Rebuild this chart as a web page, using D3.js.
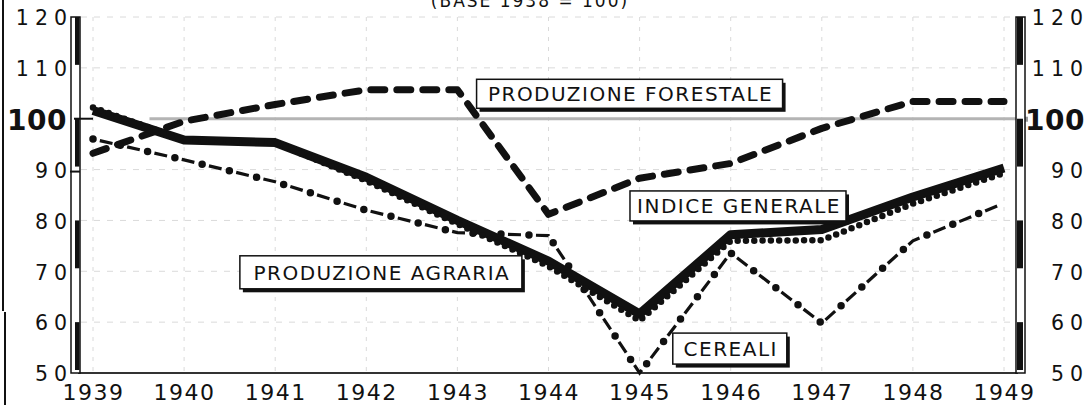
<!DOCTYPE html>
<html>
<head>
<meta charset="utf-8">
<script src="https://cdn.jsdelivr.net/npm/d3@7"></script>
<style>
  html, body { margin: 0; padding: 0; background: #fff; }
  svg { display: block; }
</style>
</head>
<body>
<svg id="chart" width="1089" height="405"></svg>
<script>
// ---- data ----
const years = [1939, 1940, 1941, 1942, 1943, 1944, 1945, 1946, 1947, 1948, 1949];
const indiceGenerale    = [101.6, 95.8, 95.3, 88.5, 80.0, 72.0, 61.6, 77.2, 78.2, 84.6, 90.3];
const produzioneAgraria = [102.2, 95.8, 95.3, 87.8, 79.3, 71.0, 60.3, 76.0, 76.1, 83.3, 89.3];
const produzioneForestale = [93.2, 99.5, 102.8, 105.7, 105.7, 81.2, 88.3, 91.2, 98.1, 103.4, 103.4];
const cereali = [96.0, 91.9, 87.6, 82.0, 77.6, 77.0, 50.0, 73.6, 59.8, 76.0, 83.4];
const yTicks = [50, 60, 70, 80, 90, 100, 110, 120];
const title = "(BASE 1938 = 100)";
const labelTexts = ["PRODUZIONE FORESTALE", "INDICE GENERALE", "PRODUZIONE AGRARIA", "CEREALI"];
// label anchors in data space (year, value)
const labelYears  = [1944.89, 1946.08, 1942.16, 1945.99];
const labelValues = [104.9, 82.85, 69.8, 54.8];

// ---- layout ----
const svg = d3.select("#chart");
const x = d3.scaleLinear().domain([1939, 1949]).range([93, 1004]);
const y = d3.scaleLinear().domain([50, 120]).range([373, 17]);
const font = "'DejaVu Sans', sans-serif";

// scan edge lines on far left
svg.append("line").attr("x1", 3).attr("x2", 3).attr("y1", 0).attr("y2", 311)
  .attr("stroke", "#111").attr("stroke-width", 2);
svg.append("line").attr("x1", 5).attr("x2", 5).attr("y1", 312).attr("y2", 405)
  .attr("stroke", "#111").attr("stroke-width", 2);

// title (cut at top, as in the source)
svg.append("text").attr("x", 530).attr("y", 7).attr("text-anchor", "middle")
  .attr("font-family", font).attr("font-size", 17).attr("letter-spacing", 2)
  .attr("fill", "#111").text(title);

// grid (very faint)
const grid = svg.append("g");
grid.selectAll(".vg").data(years).join("line")
  .attr("x1", d => x(d)).attr("x2", d => x(d))
  .attr("y1", y(120)).attr("y2", y(50))
  .attr("stroke", "#dadada").attr("stroke-width", 1).attr("stroke-dasharray", "4 6");
grid.selectAll(".hg").data(yTicks.filter(v => v !== 50 && v !== 100)).join("line")
  .attr("x1", x(1939) - 12).attr("x2", x(1949) + 8)
  .attr("y1", d => y(d)).attr("y2", d => y(d))
  .attr("stroke", "#dadada").attr("stroke-width", 1).attr("stroke-dasharray", "6 7");

// base 100 line
svg.append("line").attr("x1", x(1939.62)).attr("x2", 1027)
  .attr("y1", y(100)).attr("y2", y(100))
  .attr("stroke", "#b4b4b4").attr("stroke-width", 3);
svg.append("rect").attr("x", 1022).attr("y", y(100) - 2).attr("width", 6).attr("height", 5)
  .attr("fill", "#9a9a9a");

// bottom axis line
svg.append("line").attr("x1", 78).attr("x2", 1018).attr("y1", y(50)).attr("y2", y(50))
  .attr("stroke", "#333").attr("stroke-width", 2);

// side bars
function sideBar(x0, w, fx, fw) {
  const g = svg.append("g");
  g.append("rect").attr("x", x0).attr("y", y(120)).attr("width", w).attr("height", y(50) - y(120))
    .attr("fill", "#fff").attr("stroke", "#111").attr("stroke-width", 1.5);
  const bands = [[120, 110], [100, 90], [80, 70], [60, 50]];
  g.selectAll("rect.band").data(bands).join("rect")
    .attr("x", fx).attr("width", fw)
    .attr("y", d => y(d[0])).attr("height", d => y(d[1]) - y(d[0]) - 3)
    .attr("fill", "#111");
  return g;
}
sideBar(71, 9, 75, 4.5);
sideBar(1016, 9, 1017, 6);
// ticks on left bar
svg.append("line").attr("x1", 74).attr("x2", x(1939)).attr("y1", y(100)).attr("y2", y(100))
  .attr("stroke", "#111").attr("stroke-width", 2);
svg.append("line").attr("x1", 70).attr("x2", 80).attr("y1", y(90) + 2).attr("y2", y(90) + 2)
  .attr("stroke", "#111").attr("stroke-width", 2);

// axes labels
const leftAxis = svg.append("g").attr("transform", "translate(73,0)")
  .call(d3.axisLeft(y).tickValues(yTicks).tickSize(0).tickPadding(0));
const rightAxis = svg.append("g").attr("transform", "translate(1089,0)")
  .call(d3.axisLeft(y).tickValues(yTicks).tickSize(0).tickPadding(0));
[leftAxis, rightAxis].forEach(a => {
  a.select(".domain").remove();
  a.selectAll("text")
    .attr("font-family", font).attr("fill", "#111")
    .attr("font-size", d => d === 100 ? 28 : 20.5)
    .attr("font-weight", d => d === 100 ? "bold" : "normal")
    .attr("letter-spacing", d => d === 100 ? 0.5 : 6)
    .attr("dy", "0.38em");
});
leftAxis.selectAll("text").attr("dx", d => d === 100 ? -6 : 0);
rightAxis.selectAll("text").attr("dx", d => d === 100 ? -4 : 0);

const bottomAxis = svg.append("g").attr("transform", `translate(0,${y(50)})`)
  .call(d3.axisBottom(x).tickValues(years).tickFormat(d3.format("d")).tickSize(0));
bottomAxis.select(".domain").remove();
bottomAxis.selectAll("text")
  .attr("font-family", font).attr("font-size", 22).attr("letter-spacing", 1.5)
  .attr("fill", "#111").attr("y", 26.5).attr("dy", 0).attr("dx", 0);

// series
const line = d3.line().x((d, i) => x(years[i])).y(d => y(d));

// produzione forestale (dashed)
svg.append("path").datum(produzioneForestale).attr("d", line)
  .attr("fill", "none").attr("stroke", "#111").attr("stroke-width", 7)
  .attr("stroke-linecap", "round").attr("stroke-linejoin", "round")
  .attr("stroke-dasharray", "14 12");

// cereali (dash-dot)
svg.append("path").datum(cereali).attr("d", line)
  .attr("fill", "none").attr("stroke", "#111").attr("stroke-width", 3.2)
  .attr("stroke-dasharray", "13 15").attr("stroke-dashoffset", -7);
svg.append("path").datum(cereali).attr("d", line)
  .attr("fill", "none").attr("stroke", "#111").attr("stroke-width", 7.5)
  .attr("stroke-linecap", "round").attr("stroke-dasharray", "0 28");

// indice generale (thick solid)
svg.append("path").datum(indiceGenerale).attr("d", line)
  .attr("fill", "none").attr("stroke", "#111").attr("stroke-width", 9)
  .attr("stroke-linejoin", "round");

// produzione agraria (dotted)
svg.append("path").datum(produzioneAgraria).attr("d", line)
  .attr("fill", "none").attr("stroke", "#111").attr("stroke-width", 6.5)
  .attr("stroke-linecap", "round").attr("stroke-dasharray", "0 8.3");

// label boxes
const labelW = [306, 216, 282, 114];
const labelH = [29, 30, 33, 31];
labelTexts.forEach((t, i) => {
  const cx = x(labelYears[i]), cy = y(labelValues[i]);
  const w = labelW[i], h = labelH[i];
  const g = svg.append("g");
  g.append("rect").attr("x", cx - w / 2 + 3).attr("y", cy - h / 2 + 3.5)
    .attr("width", w).attr("height", h).attr("fill", "#111");
  g.append("rect").attr("x", cx - w / 2).attr("y", cy - h / 2)
    .attr("width", w).attr("height", h).attr("fill", "#fff")
    .attr("stroke", "#111").attr("stroke-width", 1.5);
  g.append("text").attr("x", cx + 1).attr("y", cy).attr("dy", "0.36em")
    .attr("text-anchor", "middle").attr("font-family", font).attr("font-size", 20)
    .attr("letter-spacing", 1.5).attr("fill", "#111").text(t);
});
</script>
</body>
</html>
